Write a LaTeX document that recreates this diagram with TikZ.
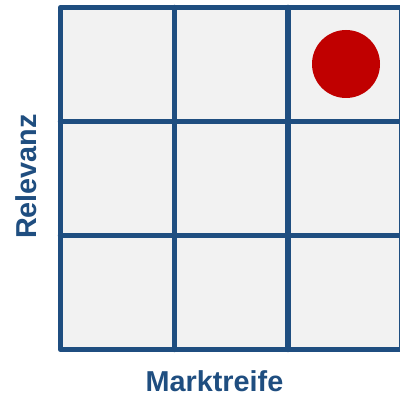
\documentclass[tikz,border=0pt]{standalone}
\usepackage{fontspec}
\setmainfont{Liberation Sans}
\definecolor{gridblue}{HTML}{1F4E80}
\definecolor{cellgray}{HTML}{F2F2F2}
\definecolor{dotred}{HTML}{C00000}
\tikzset{
  gridline/.style={draw=gridblue, line width=5.5pt, line join=round, line cap=round},
  axislabel/.style={text=gridblue, font=\fontsize{28.8}{31}\selectfont\bfseries, inner sep=0pt},
}
\begin{document}
\begin{tikzpicture}[x=1pt,y=1pt]
\useasboundingbox (0,0) rectangle (400,397);
\begin{scope}
\clip (0,0) rectangle (400,397);
\fill[cellgray] (60.5,47.5) rectangle (402,389.5);
\foreach \x in {174.3,288.2} \draw[gridline] (\x,47.5) -- (\x,389.5);
\foreach \y in {161.5,275.5} \draw[gridline] (60.5,\y) -- (402,\y);
\draw[gridline] (60.5,47.5) rectangle (402,389.5);
\end{scope}
\node[circle, fill=dotred, minimum size=68pt, inner sep=0pt] (dot) at (346,333) {};
\node[axislabel, anchor=base] (xlab) at (214.5,5.5) {Marktreife};
\node[axislabel, rotate=90] (ylab) at (26,220.5) {Relevanz};
\end{tikzpicture}
\end{document}
